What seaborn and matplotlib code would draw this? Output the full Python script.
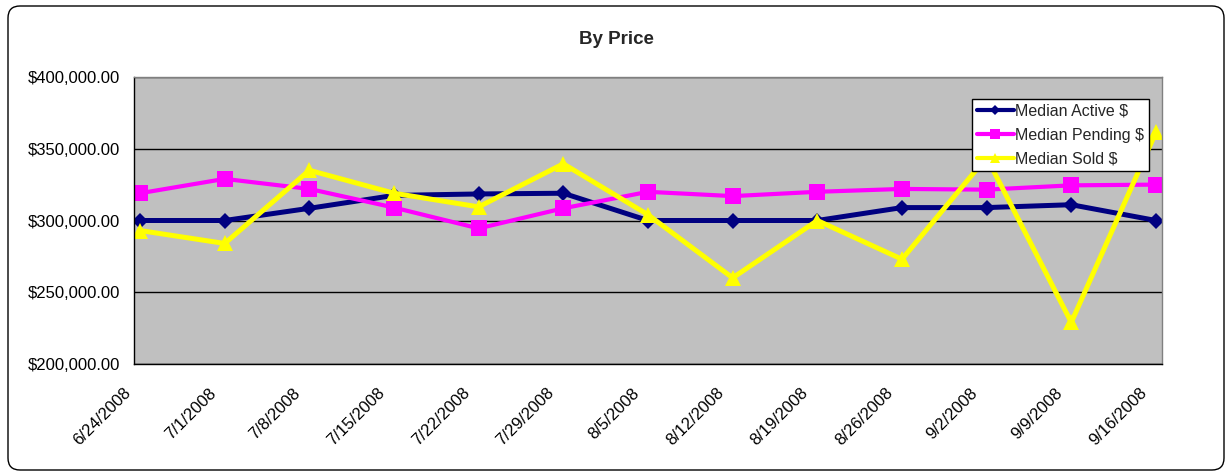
import pandas as pd
import numpy as np
import matplotlib
matplotlib.use('Agg')
import matplotlib.pyplot as plt
import seaborn as sns
from matplotlib.patches import FancyBboxPatch
from matplotlib.ticker import FuncFormatter

# values
week_labels = ['6/24/2008', '7/1/2008', '7/8/2008', '7/15/2008', '7/22/2008', '7/29/2008', '8/5/2008',
               '8/12/2008', '8/19/2008', '8/26/2008', '9/2/2008', '9/9/2008', '9/16/2008']
median_active = [300000, 300000, 308500, 317500, 318500, 319000, 300000, 300000, 300000, 309000, 309000, 311000, 300000]
median_pending = [319000, 329000, 322000, 309000, 294500, 308500, 320000, 317000, 320000, 322000, 321500, 324500, 325000]
median_sold = [293000, 284000, 335000, 319000, 309500, 339500, 304000, 260000, 300000, 273000, 344000, 229000, 361500]

series = [
    ('Median Active $', median_active, '#000080', 'D', 8.5, 3.6),
    ('Median Pending $', median_pending, '#FF00FF', 's', 12, 3.0),
    ('Median Sold $', median_sold, '#FFFF00', '^', 12, 3.6),
]

weeks = pd.to_datetime(week_labels, format='%m/%d/%Y')
# Excel puts the points at mid-day of each week's date
point_x = weeks + pd.Timedelta(hours=12)

sns.set_style('white')
plt.rcParams['font.family'] = ['Liberation Sans', 'DejaVu Sans']

fig = plt.figure(figsize=(12.32, 4.73), dpi=100)
ax = fig.add_axes([134 / 1232, 1 - 364 / 473, (1162 - 134) / 1232, (364 - 77) / 473])
ax.set_facecolor('#C0C0C0')

for name, vals, col, mk, ms, lw in series:
    df = pd.DataFrame({'week': point_x, 'price': vals})
    sns.lineplot(data=df, x='week', y='price', ax=ax, color=col, marker=mk, markersize=ms,
                 markeredgewidth=0, linewidth=lw, label=name)

ax.set_ylim(200000, 400000)
ax.set_yticks([200000, 250000, 300000, 350000, 400000])
ax.yaxis.set_major_formatter(FuncFormatter(lambda v, p: '${:,.2f}'.format(v)))
ax.set_xlim(weeks[0], weeks[-1] + pd.Timedelta(days=1))
ax.set_xticks(weeks)
ax.set_xticklabels(week_labels, rotation=45, ha='right', va='bottom', rotation_mode='anchor')
ax.set_xlabel('')
ax.set_ylabel('')

ax.grid(axis='y', color='black', linewidth=1)
ax.grid(axis='x', visible=False)
ax.set_axisbelow(True)
ax.tick_params(axis='both', direction='out', length=5, width=1, color='black', labelsize=12, labelcolor='black')
ax.tick_params(axis='y', pad=5)
ax.tick_params(axis='x', pad=18)
for side in ['left', 'bottom']:
    ax.spines[side].set_color('black')
    ax.spines[side].set_linewidth(1)
for side in ['top', 'right']:
    ax.spines[side].set_color('#808080')
    ax.spines[side].set_linewidth(1)

leg = ax.legend(loc='upper left', bbox_to_anchor=(972 / 1232, 1 - 99 / 473), bbox_transform=fig.transFigure,
                frameon=True, fancybox=False, edgecolor='black', framealpha=1, fontsize=11.5,
                handlelength=2.3, handletextpad=0.1, borderpad=0.3, labelspacing=0.55, markerscale=0.65,
                borderaxespad=0)
leg.get_frame().set_linewidth(1)
for h in leg.get_lines():
    h.set_linewidth(3)

fig.text(0.5, 1 - 40 / 473, 'By Price', ha='center', va='center', fontsize=13.5, fontweight='bold')

frame = FancyBboxPatch((0.08, 0.03), 12.16, 4.64, boxstyle='round,pad=0,rounding_size=0.12',
                       transform=fig.dpi_scale_trans, facecolor='none', edgecolor='black', linewidth=1)
fig.patches.append(frame)

fig.savefig('out.png', dpi=100)
